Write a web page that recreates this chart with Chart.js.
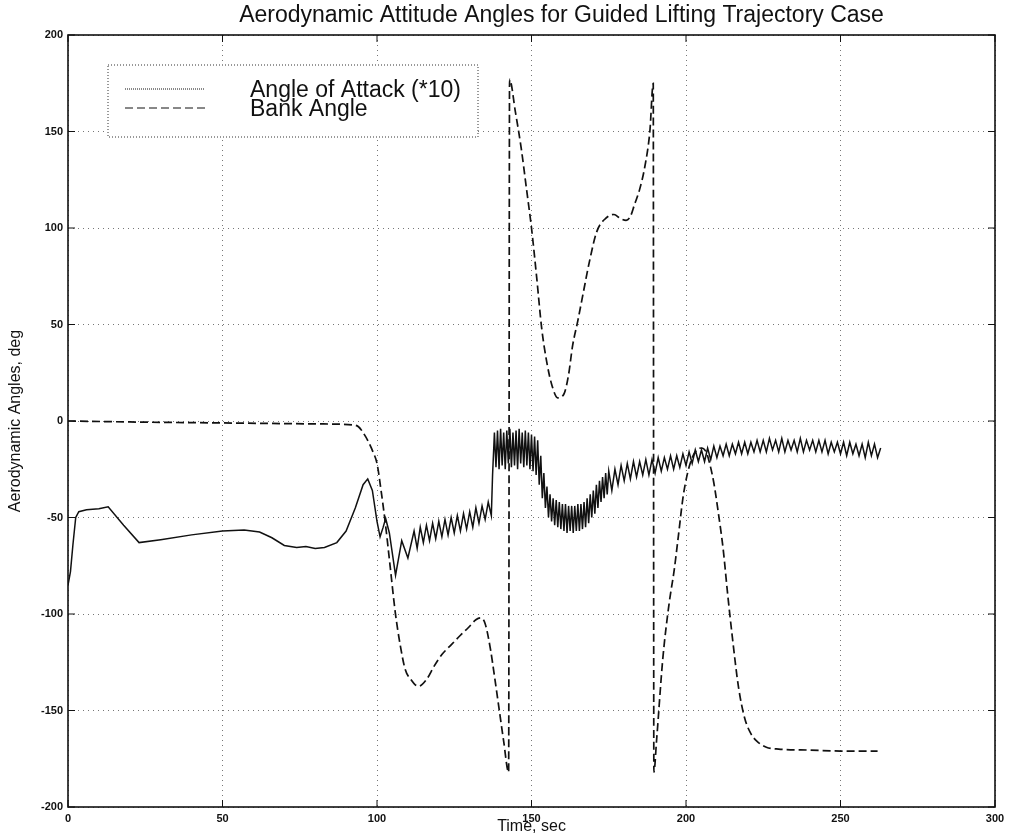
<!DOCTYPE html>
<html>
<head>
<meta charset="utf-8">
<title>Aerodynamic Attitude Angles</title>
<script src="https://cdn.jsdelivr.net/npm/chart.js@4.4.0/dist/chart.umd.min.js"></script>
<style>
  html, body { margin: 0; padding: 0; background: #fff; }
  #wrap { width: 1019px; height: 836px; }
</style>
</head>
<body>
<div id="wrap"><canvas id="attitudeChart" width="1019" height="836"></canvas></div>
<script>
// values
const chartTitle = 'Aerodynamic Attitude Angles for Guided Lifting Trajectory Case';
const seriesLabels = ['Angle of Attack (*10)', 'Bank Angle'];
const xTicks = [0, 50, 100, 150, 200, 250, 300];
const yTicks = [-200, -150, -100, -50, 0, 50, 100, 150, 200];

// angle of attack (*10), deg
const aoaTime = [
  0, 0.8, 1.6, 2.5, 3.5, 6, 10, 13, 18, 23, 30, 40, 50, 57, 62, 66, 70, 74, 77, 80,
  83, 87, 90, 93, 95.5, 97, 98.5, 100, 101, 102, 102.8, 104, 106, 108, 110, 112,
  113, 114, 115, 116, 117, 118, 119, 120, 121, 122, 123, 124, 125, 126, 127, 128, 129, 130, 131, 132,
  133, 134, 135, 136, 137,
  137.4, 138, 138.5, 139, 139.5, 140, 140.5, 141, 141.5, 142, 142.5, 143, 143.5, 144, 144.5, 145, 145.5,
  146, 146.5, 147, 147.5, 148, 148.5, 149, 149.5, 150, 150.5, 151, 151.5,
  152, 152.5, 153, 153.5, 154, 154.5, 155, 155.5, 156, 156.5, 157, 157.5, 158, 158.5, 159, 159.5,
  160, 160.5, 161, 161.5, 162, 162.5, 163, 163.5,
  164, 164.5, 165, 165.5, 166, 166.5, 167, 167.5, 168, 168.5, 169, 169.5, 170, 170.5, 171, 171.5,
  172, 172.5, 173, 173.5, 174, 174.5, 175,
  176, 177, 178, 179, 180, 181, 182, 183, 184, 185, 186, 187, 188, 189, 190, 191, 192, 193, 194, 195,
  196, 197, 198, 199, 200, 201, 202, 203, 204, 205, 206, 207, 208, 209, 210, 211, 212, 213, 214, 215,
  216, 217, 218, 219, 220, 221, 222, 223, 224, 225, 226, 227, 228, 229, 230, 231, 232, 233, 234, 235,
  236, 237, 238, 239, 240, 241, 242, 243, 244, 245, 246, 247, 248, 249, 250, 251, 252, 253, 254, 255,
  256, 257, 258, 259, 260, 261, 262, 263
];
const aoaValue = [
  -85, -78, -64, -50, -47, -46, -45.5, -44.5, -54, -63, -61.5, -59, -57, -56.5, -57.5, -60.5, -64.5, -65.5, -65, -66,
  -65.5, -63, -57, -45, -33, -30, -36, -52, -60, -55, -50.5, -58, -80, -62, -71, -57,
  -66, -55, -63, -54, -62, -53, -61, -52, -60, -51, -59, -50, -58, -49, -57, -48, -56, -47, -55, -45,
  -53, -44, -51, -42, -49,
  -28, -6, -24, -5, -25, -4, -23, -6, -25, -5, -22, -4, -24, -6, -23, -5, -25,
  -4, -22, -6, -24, -5, -23, -6, -25, -7, -26, -8, -28,
  -10, -33, -18, -40, -27, -45, -34, -50, -38, -52, -40, -54, -41, -55, -42, -56,
  -43, -57, -43, -58, -44, -57, -44, -58,
  -44, -57, -43, -57, -43, -56, -42, -55, -40, -53, -38, -50, -36, -48, -33, -45,
  -31, -42, -29, -40, -27, -38, -26,
  -36, -25, -33, -23, -31, -22, -30, -21, -29, -21, -28, -20, -28, -20, -27, -19, -26, -19, -25, -18,
  -25, -18, -24, -17, -23, -16, -22, -15, -21, -15, -21, -14, -20, -13, -19, -13, -18, -12, -18, -12,
  -17, -11, -17, -11, -17, -11, -16, -10, -16, -10, -16, -9, -15, -10, -16, -9, -16, -10, -15, -10,
  -16, -9, -16, -10, -15, -10, -16, -10, -16, -10, -17, -11, -16, -11, -17, -11, -18, -11, -17, -12,
  -18, -12, -19, -11, -18, -12, -19, -14
];

// bank angle, deg
const bankTime = [
  0, 20, 50, 80, 92, 94, 95.5, 97.3, 98.7, 100, 101.4, 102.7, 104.3, 105.9, 107.5, 109.1, 111, 113.4,
  116, 118.5, 121, 124, 127, 129.6, 132, 133.5, 135, 136.8, 138, 139.5, 141, 142.6,
  142.9, 144.8, 146.7, 148.4, 150, 151.7, 153.3, 155, 156.7, 158.5, 160.5, 162, 163.3, 165, 166.7, 168.8,
  171.1, 174, 176.7, 178.7, 180.6, 182, 183.3, 185, 186.7, 188.3, 189.4,
  189.6, 190.5, 192.5, 194.5, 196.2, 197.5, 199, 200.5, 202, 203.5, 205, 206.5, 207.5, 209, 210.5, 212,
  213.5, 215, 217, 219, 221, 223, 226, 230, 240, 250, 262
];
const bankValue = [
  0, -0.5, -1, -1.5, -2, -3, -6, -11, -16, -22, -37, -53, -76, -99, -116, -128.5, -134, -137.5,
  -134, -127, -121, -116, -111, -107, -103, -102, -105, -119, -132, -149, -166, -182,
  177, 160, 141, 120, 100, 74, 48, 30, 18, 12, 14, 24, 39, 52, 66, 83,
  98, 105, 107, 105, 104, 106, 112, 120, 132, 150, 175,
  -182, -165, -123, -95, -77, -60, -40, -27, -19, -15, -14, -16, -21, -32, -48, -66,
  -90, -112, -138, -154, -162, -166, -169, -170, -170.5, -171, -171
];

const fontFamily = '"Liberation Sans", Arial, sans-serif';

const frame = {
  id: 'frame',
  afterDatasetsDraw(chart) {
    const { ctx, chartArea: a, scales: { x, y } } = chart;
    ctx.save();
    ctx.strokeStyle = '#111';
    ctx.lineWidth = 1;
    xTicks.forEach(v => {
      const px = x.getPixelForValue(v);
      ctx.beginPath();
      ctx.moveTo(px, a.bottom); ctx.lineTo(px, a.bottom - 7);
      ctx.moveTo(px, a.top); ctx.lineTo(px, a.top + 7);
      ctx.stroke();
    });
    yTicks.forEach(v => {
      const py = y.getPixelForValue(v);
      ctx.beginPath();
      ctx.moveTo(a.left, py); ctx.lineTo(a.left + 7, py);
      ctx.moveTo(a.right, py); ctx.lineTo(a.right - 7, py);
      ctx.stroke();
    });
    ctx.lineWidth = 1.6;
    ctx.strokeRect(a.left, a.top, a.right - a.left, a.bottom - a.top);
    ctx.restore();
  }
};

const legendBox = {
  id: 'legendBox',
  afterDraw(chart) {
    const { ctx, chartArea: a } = chart;
    const left = a.left + 40, top = a.top + 30, w = 370, h = 72;
    ctx.save();
    ctx.fillStyle = '#fff';
    ctx.fillRect(left, top, w, h);
    ctx.strokeStyle = '#333';
    ctx.lineWidth = 1;
    ctx.setLineDash([1, 2]);
    ctx.strokeRect(left, top, w, h);
    chart.data.datasets.forEach((ds, i) => {
      const yy = top + 24 + i * 19;
      ctx.setLineDash(ds.borderDash || [1, 1]);
      ctx.lineWidth = 1;
      ctx.strokeStyle = ds.borderColor;
      ctx.beginPath();
      ctx.moveTo(left + 17, yy);
      ctx.lineTo(left + 97, yy);
      ctx.stroke();
      ctx.setLineDash([]);
      ctx.fillStyle = '#111';
      ctx.font = '23px ' + fontFamily;
      ctx.textBaseline = 'middle';
      ctx.fillText(ds.label, left + 142, yy + 2);
    });
    ctx.restore();
  }
};

const headline = {
  id: 'headline',
  afterDraw(chart) {
    const { ctx, chartArea: a } = chart;
    ctx.save();
    ctx.fillStyle = '#111';
    ctx.font = '23px ' + fontFamily;
    ctx.textAlign = 'center';
    ctx.textBaseline = 'middle';
    ctx.fillText(chartTitle, (a.left + a.right) / 2 + 30, 16);
    ctx.restore();
  }
};

new Chart(document.getElementById('attitudeChart'), {
  type: 'line',
  data: {
    datasets: [
      {
        label: seriesLabels[0],
        data: aoaTime.map((t, i) => ({ x: t, y: aoaValue[i] })),
        borderColor: '#111',
        borderWidth: 1.5,
        pointRadius: 0,
        tension: 0
      },
      {
        label: seriesLabels[1],
        data: bankTime.map((t, i) => ({ x: t, y: bankValue[i] })),
        borderColor: '#111',
        borderWidth: 1.7,
        borderDash: [8, 4],
        pointRadius: 0,
        cubicInterpolationMode: 'monotone'
      }
    ]
  },
  options: {
    responsive: false,
    animation: false,
    layout: { padding: { top: 35, right: 24, bottom: 0, left: 6 } },
    plugins: {
      legend: { display: false },
      title: { display: false },
      tooltip: { enabled: false }
    },
    scales: {
      x: {
        type: 'linear',
        min: 0,
        max: 300,
        afterBuildTicks: s => { s.ticks = xTicks.map(v => ({ value: v })); },
        afterFit: s => { s.height = 29; },
        grid: { color: '#777', lineWidth: 1, drawTicks: false },
        border: { display: false, dash: [1, 4] },
        ticks: { padding: 5, color: '#111', maxRotation: 0, font: { family: fontFamily, size: 11, weight: 'bold' } },
        title: { display: true, text: 'Time, sec', color: '#111', font: { family: fontFamily, size: 16 }, padding: { top: 0, bottom: 0 } }
      },
      y: {
        type: 'linear',
        min: -200,
        max: 200,
        afterBuildTicks: s => { s.ticks = yTicks.map(v => ({ value: v })); },
        afterFit: s => { s.width = 62; },
        grid: { color: '#777', lineWidth: 1, drawTicks: false },
        border: { display: false, dash: [1, 4] },
        ticks: { padding: 5, color: '#111', font: { family: fontFamily, size: 11, weight: 'bold' } },
        title: { display: true, text: 'Aerodynamic Angles, deg', color: '#111', font: { family: fontFamily, size: 16 }, padding: { top: 0, bottom: 2 } }
      }
    }
  },
  plugins: [frame, legendBox, headline]
});
</script>
</body>
</html>
